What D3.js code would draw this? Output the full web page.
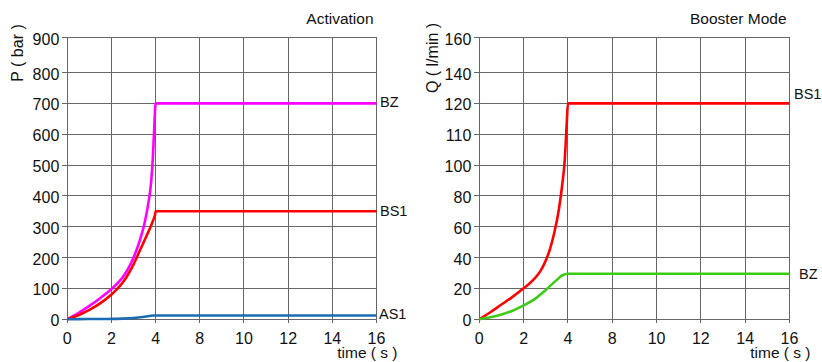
<!DOCTYPE html>
<html><head><meta charset="utf-8">
<script src="https://cdn.jsdelivr.net/npm/d3@7"></script>
<style>
html,body{margin:0;padding:0;background:#fff;}
svg{display:block;font-family:"Liberation Sans",Arial,sans-serif;}
</style></head>
<body>
<script>
// ---- data ----
const xTicks = [0, 2, 4, 8, 10, 12, 14, 16];
const yTicksP = [0, 100, 200, 300, 400, 500, 600, 700, 800, 900];
const yTicksQ = [0, 20, 40, 60, 80, 100, 110, 120, 140, 160];

const pBZ  = [[0,0],[0.5,20],[1,43],[1.5,69],[2,98],[2.5,135],[2.75,163],[3,200],[3.25,248],[3.5,312],[3.7,390],[3.8,448],[3.87,520],[3.93,610],[4,700],[16,700]];
const pBS1 = [[0,0],[0.5,13],[1,30],[1.5,52],[2,80],[2.5,118],[2.75,145],[3,178],[3.3,225],[3.6,272],[3.8,305],[3.9,323],[3.97,338],[4,350],[16,350]];
const pAS1 = [[0,0],[1,0.5],[2,1],[2.5,2],[3,4],[3.5,8],[3.9,12],[4,12],[16,12]];

const qBS1 = [[0,0],[0.5,4.5],[1,9.5],[1.5,14.5],[2,20],[2.25,23],[2.5,26.5],[2.75,31],[3,38],[3.2,46],[3.4,57],[3.6,72],[3.75,88],[3.85,101],[3.95,114],[4,120],[16,120]];
const qBZ  = [[0,0],[0.5,1.2],[1,3],[1.5,5.5],[2,9],[2.5,13],[3,19],[3.5,25.5],[3.75,28.5],[4,29.5],[16,29.5]];

const panels = [
  {x0:67.3, x1:376.5, yTicks:yTicksP, title:"Activation", ytitle:"P ( bar )", ytx:23, yty:53,
   series:[
     {name:"BZ", data:pBZ, color:"#ff00ff", lx:380, ldy:-1},
     {name:"BS1", data:pBS1, color:"#ff0000", lx:380, ldy:0},
     {name:"AS1", data:pAS1, color:"#1a6db4", lx:379, ldy:-1}
   ]},
  {x0:479.3, x1:789.5, yTicks:yTicksQ, title:"Booster Mode", ytitle:"Q ( l/min )", ytx:437.5, yty:58,
   series:[
     {name:"BS1", data:qBS1, color:"#ff0000", lx:794, ldy:-9},
     {name:"BZ", data:qBZ, color:"#3ccc14", lx:799, ldy:0}
   ]}
];

const W = 822, H = 362;
const yBottom = 319.2, yTop = 37.5, topGap = 35;
const svg = d3.select("body").append("svg").attr("width", W).attr("height", H);
svg.append("rect").attr("width", W).attr("height", H).attr("fill", "#fff");

const gridColor = "#666";

panels.forEach(p => {
  const n = xTicks.length - 1;
  const x = d3.scaleLinear()
    .domain(xTicks)
    .range(xTicks.map((d, i) => p.x0 + (p.x1 - p.x0) * i / n));
  const step = (yBottom - yTop - topGap) / (p.yTicks.length - 2);
  const y = d3.scaleLinear()
    .domain(p.yTicks)
    .range(p.yTicks.map((d, i) => i === p.yTicks.length - 1 ? yTop : yBottom - i * step));

  const g = svg.append("g");
  g.selectAll(".hg").data(p.yTicks).join("line")
    .attr("x1", p.x0 - 5).attr("x2", p.x1)
    .attr("y1", d => y(d)).attr("y2", d => y(d))
    .attr("stroke", gridColor).attr("stroke-width", 1).attr("shape-rendering", "crispEdges");
  g.selectAll(".vg").data(xTicks).join("line")
    .attr("x1", d => x(d)).attr("x2", d => x(d))
    .attr("y1", yTop).attr("y2", yBottom + 4)
    .attr("stroke", gridColor).attr("stroke-width", 1).attr("shape-rendering", "crispEdges");

  g.selectAll(".yl").data(p.yTicks).join("text")
    .attr("x", p.x0 - 8).attr("y", d => y(d) + 7)
    .attr("text-anchor", "end").attr("font-size", 16).attr("fill", "#111")
    .text(d => d);
  g.selectAll(".xl").data(xTicks).join("text")
    .attr("x", d => x(d)).attr("y", 344)
    .attr("text-anchor", "middle").attr("font-size", 16).attr("fill", "#111")
    .text(d => d);

  g.append("text").attr("x", p.x1 - 3).attr("y", 24)
    .attr("text-anchor", "end").attr("font-size", 15.5).attr("fill", "#111").text(p.title);
  g.append("text").attr("x", p.x1 + 21).attr("y", 357.5)
    .attr("text-anchor", "end").attr("font-size", 15.5).attr("fill", "#111").text("time ( s )");
  g.append("text").attr("transform", `translate(${p.ytx},${p.yty}) rotate(-90)`)
    .attr("text-anchor", "middle").attr("font-size", 16).attr("fill", "#111").text(p.ytitle);

  const line = d3.line().x(d => x(d[0])).y(d => y(d[1])).curve(d3.curveMonotoneX);
  p.series.forEach(s => {
    g.append("path").datum(s.data).attr("d", line)
      .attr("fill", "none").attr("stroke", s.color).attr("stroke-width", 2.6)
      .attr("stroke-linejoin", "round");
    const last = s.data[s.data.length - 1];
    g.append("text").attr("x", s.lx).attr("y", y(last[1]) + 5 + s.ldy)
      .attr("font-size", 14.5).attr("fill", "#111").text(s.name);
  });
});
</script>
</body></html>
